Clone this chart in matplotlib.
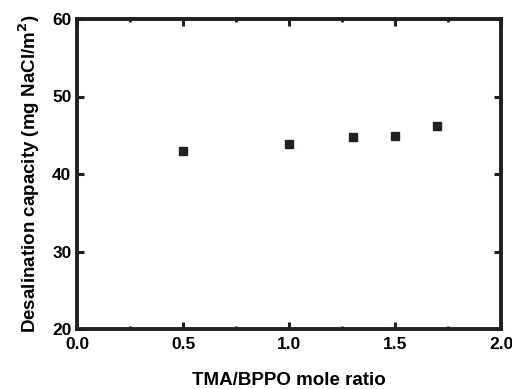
import matplotlib
matplotlib.use("Agg")
import matplotlib.pyplot as plt
from matplotlib.ticker import MultipleLocator

# values
ratio = [0.5, 1.0, 1.3, 1.5, 1.7]
capacity = [43.0, 43.9, 44.8, 44.9, 46.2]

plt.rcParams['font.family'] = ['Liberation Sans', 'DejaVu Sans']
plt.rcParams['font.weight'] = 'bold'

fig = plt.figure(figsize=(5.12, 3.89), dpi=100)
ax = fig.add_axes([77 / 512, 1 - 329 / 389, (501 - 77) / 512, (329 - 19) / 389])

ax.plot(ratio, capacity, linestyle='none', marker='s', markersize=5.2,
        color='#231f20')

ax.set_xlim(0.0, 2.0)
ax.set_ylim(20, 60)
ax.xaxis.set_major_locator(MultipleLocator(0.5))
ax.xaxis.set_minor_locator(MultipleLocator(0.25))
ax.yaxis.set_major_locator(MultipleLocator(10))
ax.xaxis.set_major_formatter(plt.FormatStrFormatter('%.1f'))

for s in ax.spines.values():
    s.set_linewidth(2.8)
    s.set_color('#231f20')

ax.tick_params(which='both', direction='in', top=True, right=True,
               labelsize=12.5, color='#231f20')
ax.tick_params(axis='x', pad=6)
ax.tick_params(axis='y', pad=4)
ax.tick_params(which='major', length=5, width=2.2)
ax.tick_params(which='minor', length=2.5, width=2.0)

ax.set_xlabel('TMA/BPPO mole ratio', fontsize=13.5, fontweight='bold', labelpad=14)
ax.set_ylabel('Desalination capacity (mg NaCl/m$^\\mathbf{2}$)', fontsize=13.5,
              fontweight='bold', labelpad=7)

fig.savefig('out.png', dpi=100)
